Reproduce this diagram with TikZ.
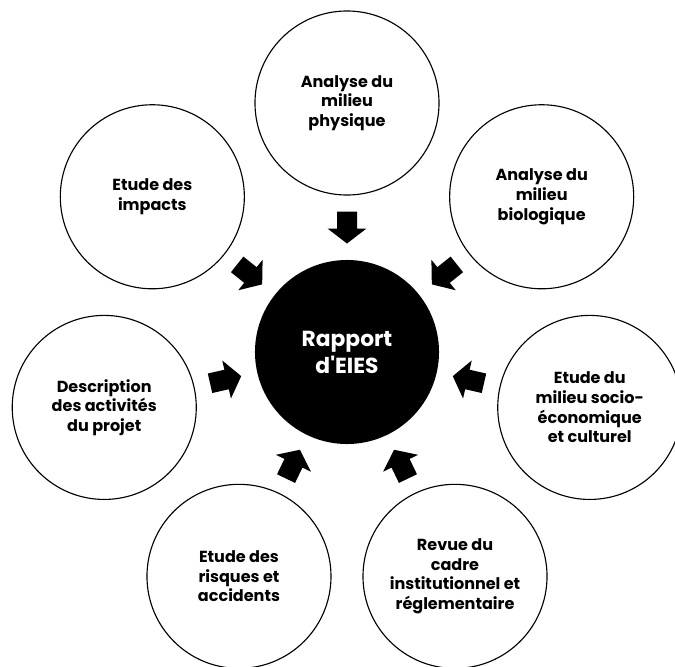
\documentclass[tikz,border=0pt]{standalone}
\usepackage{fontspec}
\setmainfont{Poppins}
\usepackage{tikz}
\usetikzlibrary{shapes.geometric}
\usepackage{xcolor}

\begin{document}
\begin{tikzpicture}[x=0.025cm,y=0.025cm,
    topic/.style={shape=circle,
      draw=black,
      line width=0.8pt,
      fill=white,
      align=center,
      inner sep=0pt,
      minimum size=4.6cm,
      font=\bfseries\fontsize{11.4}{13.9}\selectfont},
    hub/.style={shape=circle,
      fill=black,
      text=white,
      align=center,
      inner sep=0pt,
      minimum size=4.6cm,
      font=\bfseries\fontsize{15.5}{19.2}\selectfont},
    blockarrow/.pic={
      \fill[black] (-16,-10) -- (1,-10) -- (1,-19.5) -- (16,0) --
        (1,19.5) -- (1,10) -- (-16,10) -- cycle;}]
      %\draw[help lines] (-347,-314) grid[step=50] (328,352); % Only for Development
      \clip (-347,-314) rectangle (328,352);

      \node[hub] (rapport) at (0,0) {Rapport\\d\textquotesingle EIES};

      \node[topic] (physique) at (90:249) {Analyse du\\milieu\\physique};
      \node[topic] (biologique) at (38.57:249) {Analyse du\\milieu\\biologique};
      \node[topic] (socio) at (-12.86:249) {Etude du\\milieu socio-\\économique\\et culturel};
      \node[topic] (cadre) at (-64.29:249) {Revue du\\cadre\\institutionnel et\\réglementaire};
      \node[topic] (risques) at (-115.71:249) {Etude des\\risques et\\accidents};
      \node[topic] (activites) at (-167.14:249) {Description\\des activités\\du projet};
      \node[topic] (impacts) at (141.43:249) {Etude des\\impacts};

      % block arrows pointing into the hub
      \pic[rotate=270] at (90:124.5) {blockarrow};
      \pic[rotate=218.57] at (38.57:124.5) {blockarrow};
      \pic[rotate=167.14] at (-12.86:124.5) {blockarrow};
      \pic[rotate=115.71] at (-64.29:124.5) {blockarrow};
      \pic[rotate=64.29] at (-115.71:124.5) {blockarrow};
      \pic[rotate=12.86] at (-167.14:124.5) {blockarrow};
      \pic[rotate=-38.57] at (141.43:124.5) {blockarrow};

    \end{tikzpicture}
\end{document}
